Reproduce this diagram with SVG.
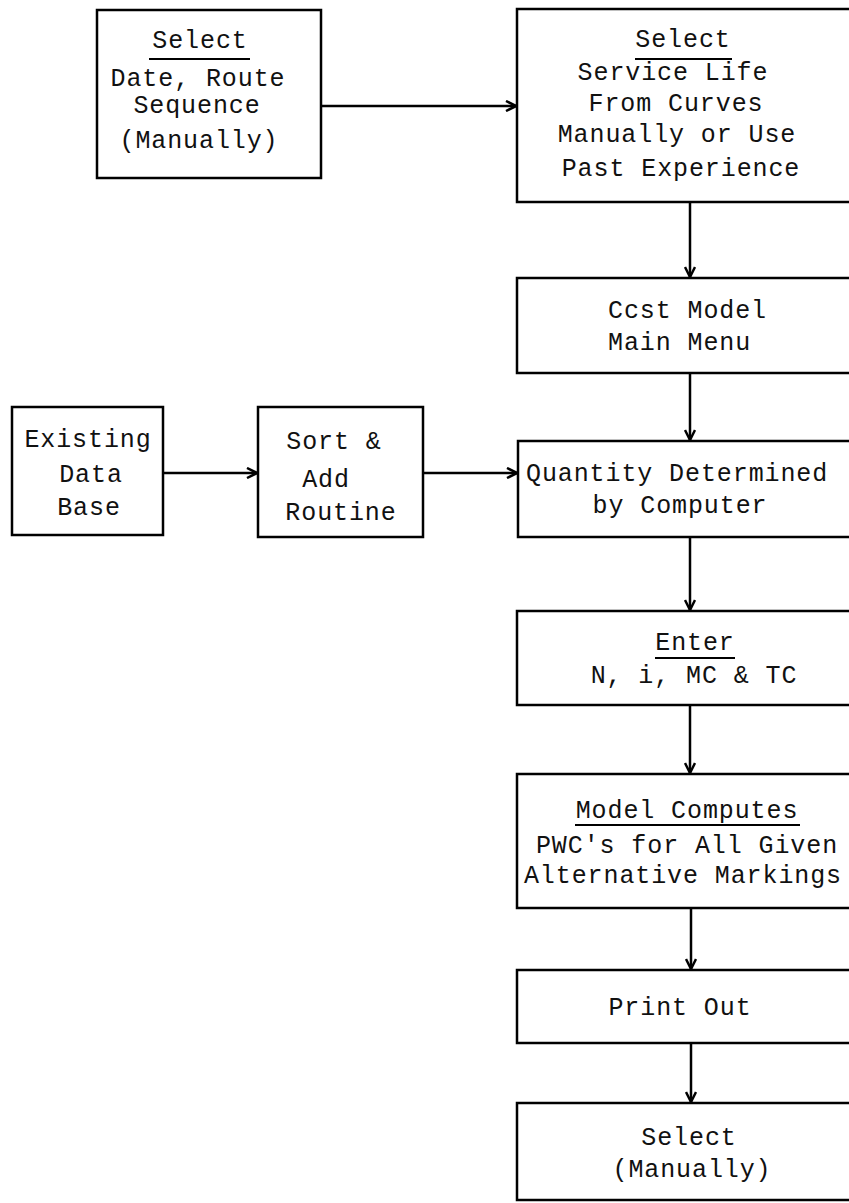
<svg xmlns="http://www.w3.org/2000/svg" width="849" height="1203" viewBox="0 0 849 1203">
<style>
.box{fill:none;stroke:#000;stroke-width:2.5}
.t{font-family:"Liberation Mono","DejaVu Sans Mono",monospace;font-size:25px;letter-spacing:0.9px;fill:#111;text-anchor:middle}
.ts{text-anchor:start}
.ul{stroke:#000;stroke-width:2}
.c{fill:none;stroke:#000;stroke-width:2.5}
</style>
<defs>
<marker id="ah" viewBox="0 0 12 12" refX="11" refY="6" markerWidth="12" markerHeight="12" markerUnits="userSpaceOnUse" orient="auto">
<path d="M1,1 L11,6 L1,11" fill="none" stroke="#000" stroke-width="2.5"/>
</marker>
</defs>
<rect width="849" height="1203" fill="#fff"/>
<g id="n1">
<rect class="box" x="97" y="10" width="224" height="168"/>
<text class="t" x="200" y="48">Select</text>
<line class="ul" x1="149" y1="59" x2="250" y2="59"/>
<text class="t" x="198" y="86">Date, Route</text>
<text class="t" x="197" y="113">Sequence</text>
<text class="t" x="199" y="148">(Manually)</text>
</g>
<g id="n2">
<rect class="box" x="517" y="9" width="345" height="193"/>
<text class="t" x="683" y="47">Select</text>
<line class="ul" x1="635" y1="59" x2="732" y2="59"/>
<text class="t" x="673" y="80">Service Life</text>
<text class="t" x="676" y="111">From Curves</text>
<text class="t" x="677" y="142">Manually or Use</text>
<text class="t" x="681" y="176">Past Experience</text>
</g>
<g id="n3">
<rect class="box" x="517" y="278" width="345" height="95"/>
<text class="t ts" x="608" y="318">Ccst Model</text>
<text class="t ts" x="608" y="350">Main Menu</text>
</g>
<g id="n4">
<rect class="box" x="12" y="407" width="151" height="128"/>
<text class="t" x="88" y="447">Existing</text>
<text class="t" x="91" y="482">Data</text>
<text class="t" x="89" y="515">Base</text>
</g>
<g id="n5">
<rect class="box" x="258" y="407" width="165" height="130"/>
<text class="t" x="334" y="449">Sort &amp;</text>
<text class="t" x="326" y="487">Add</text>
<text class="t" x="341" y="520">Routine</text>
</g>
<g id="n6">
<rect class="box" x="518" y="441" width="345" height="96"/>
<text class="t ts" x="526" y="481">Quantity Determined</text>
<text class="t" x="680" y="513">by Computer</text>
</g>
<g id="n7">
<rect class="box" x="517" y="611" width="345" height="94"/>
<text class="t" x="695" y="650">Enter</text>
<line class="ul" x1="655" y1="658" x2="735" y2="658"/>
<text class="t" x="694" y="683">N, i, MC &amp; TC</text>
</g>
<g id="n8">
<rect class="box" x="517" y="774" width="345" height="134"/>
<text class="t" x="687" y="818">Model Computes</text>
<line class="ul" x1="575" y1="825" x2="800" y2="825"/>
<text class="t" x="687" y="853">PWC's for All Given</text>
<text class="t" x="683" y="883">Alternative Markings</text>
</g>
<g id="n9">
<rect class="box" x="517" y="970" width="345" height="73"/>
<text class="t" x="680" y="1015">Print Out</text>
</g>
<g id="n10">
<rect class="box" x="517" y="1103" width="345" height="97"/>
<text class="t" x="689" y="1145">Select</text>
<text class="t" x="692" y="1177">(Manually)</text>
</g>
<g id="connectors">
<line class="c" x1="321" y1="106" x2="516" y2="106" marker-end="url(#ah)"/>
<line class="c" x1="690" y1="202" x2="690" y2="277" marker-end="url(#ah)"/>
<line class="c" x1="690" y1="373" x2="690" y2="440" marker-end="url(#ah)"/>
<line class="c" x1="163" y1="473" x2="257" y2="473" marker-end="url(#ah)"/>
<line class="c" x1="423" y1="473" x2="517" y2="473" marker-end="url(#ah)"/>
<line class="c" x1="690" y1="537" x2="690" y2="610" marker-end="url(#ah)"/>
<line class="c" x1="690" y1="705" x2="690" y2="773" marker-end="url(#ah)"/>
<line class="c" x1="691" y1="908" x2="691" y2="969" marker-end="url(#ah)"/>
<line class="c" x1="691" y1="1043" x2="691" y2="1102" marker-end="url(#ah)"/>
</g>
</svg>
